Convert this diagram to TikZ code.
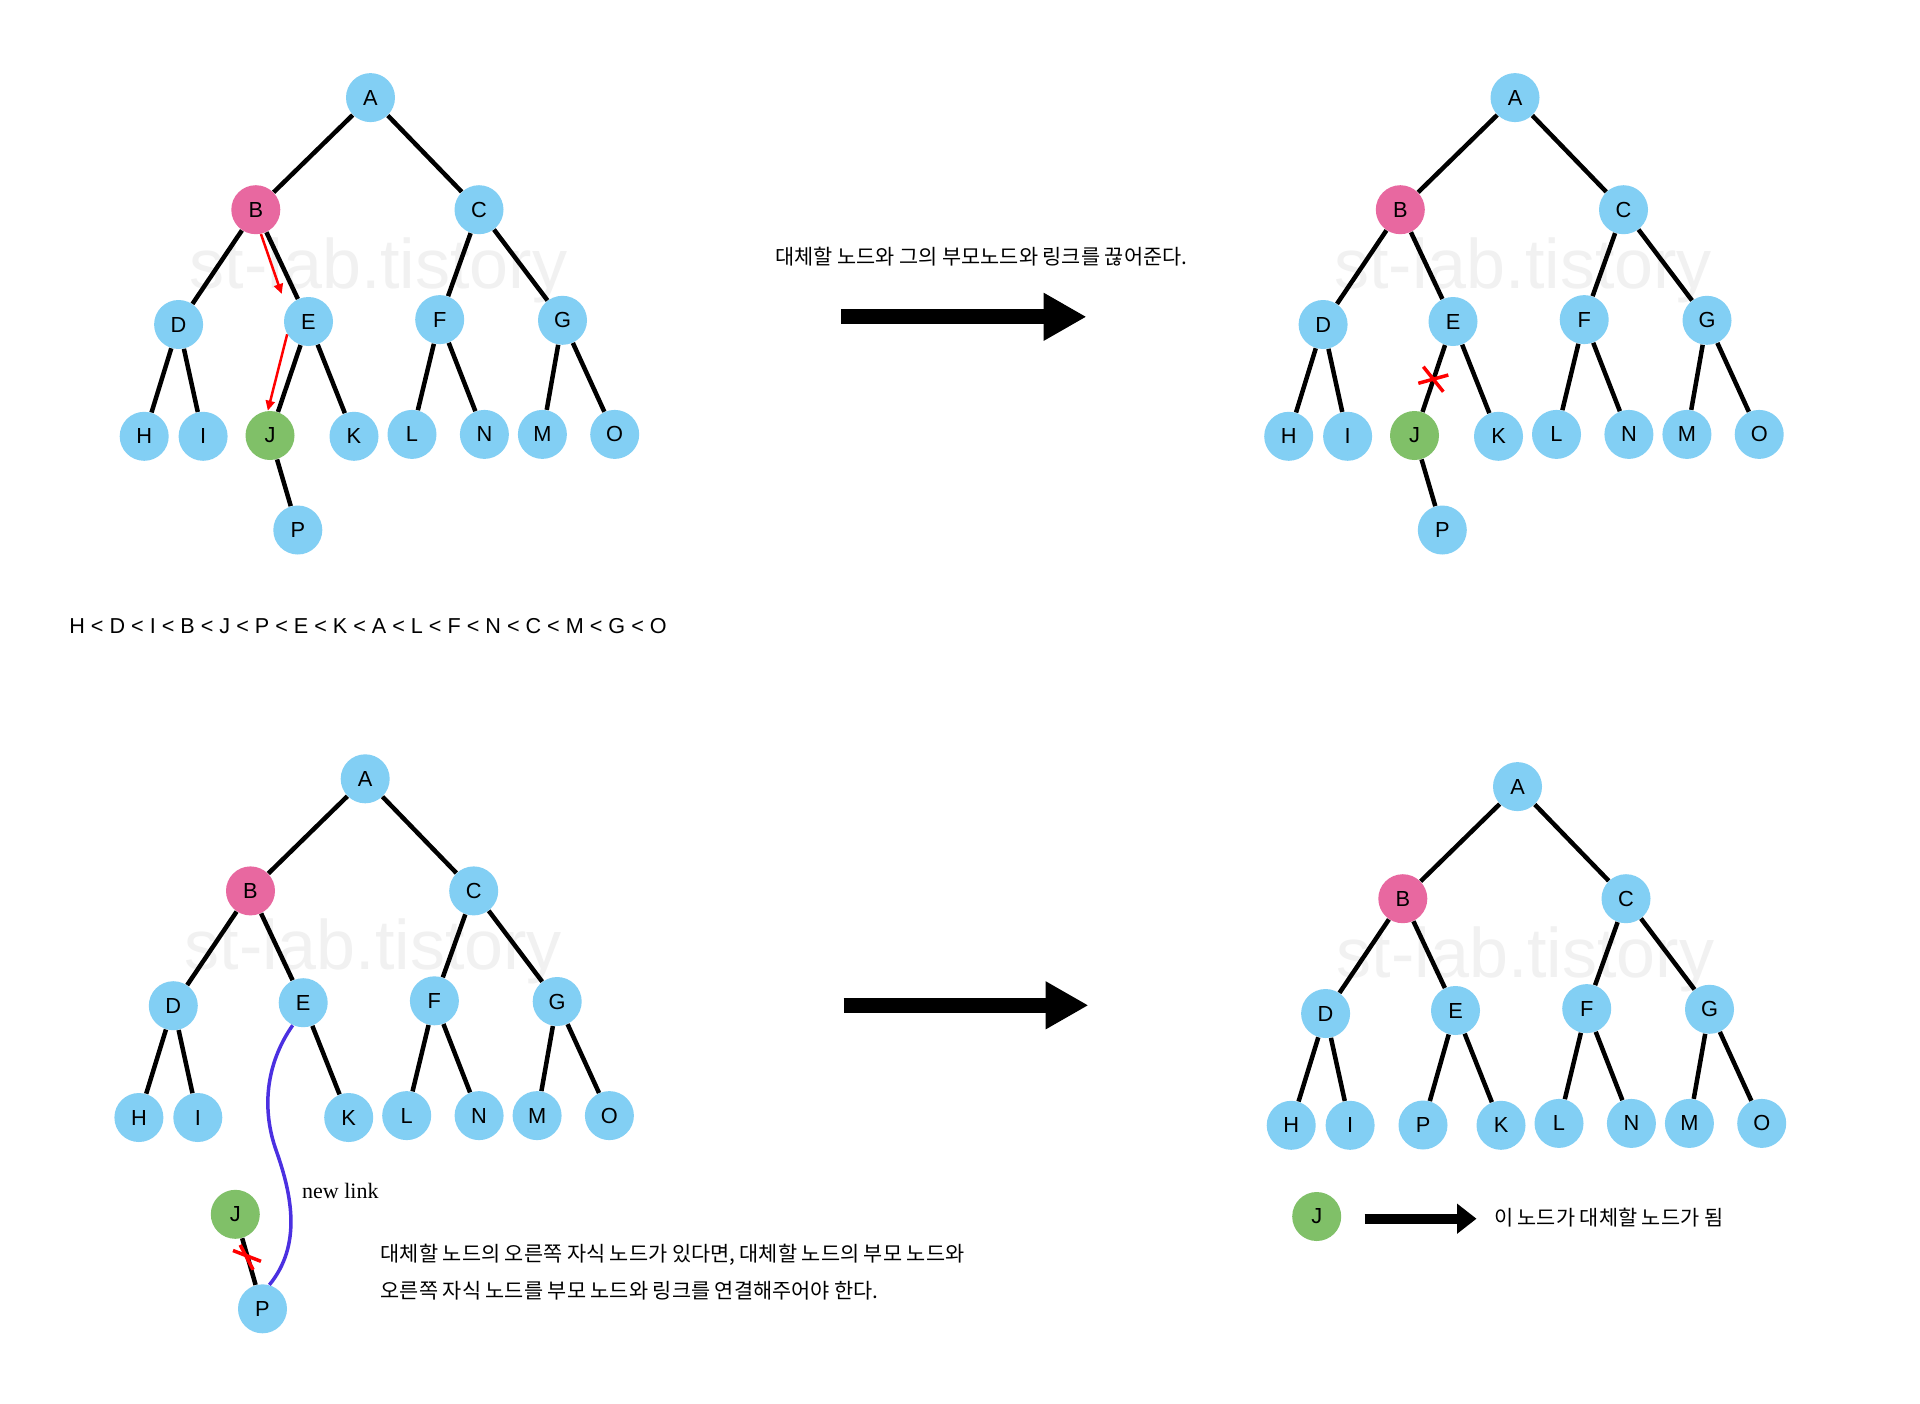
\documentclass[tikz,border=0pt]{standalone}
\usepackage{fontspec}
\setmainfont{Liberation Serif}
\newfontfamily\lsans{Liberation Sans}
\newfontfamily\kfont{Noto Sans CJK KR}
\usetikzlibrary{arrows.meta}
\definecolor{nblue}{RGB}{130,207,244}
\definecolor{npink}{RGB}{232,104,160}
\definecolor{ngreen}{RGB}{128,192,104}
\definecolor{wmgray}{RGB}{241,241,241}
\definecolor{linkblue}{RGB}{75,48,225}
\newcommand\lab{\lsans\fontsize{10.9}{12}\selectfont}
\newcommand\krtxt{\kfont\fontsize{10.4}{12}\selectfont}
\tikzset{
  nd/.style={circle, fill=nblue, minimum size=24.5pt, inner sep=0pt, font=\lab},
  pk/.style={nd, fill=npink},
  gr/.style={nd, fill=ngreen},
  edge/.style={line width=2.25pt, black},
  redarr/.style={red, line width=1.25pt, -{Triangle[length=5pt,width=4.5pt]}},
  xmark/.style={red, line width=1.75pt},
  bigarr/.style={black, line width=7.5pt, -{Triangle[length=21.5pt,width=22.5pt]}},
  smallarr/.style={black, line width=5pt, -{Triangle[length=9.75pt,width=14.5pt]}},
  wm/.style={font=\lsans\fontsize{35}{40}\selectfont, text=wmgray, anchor=base west, inner sep=0pt},
  kr/.style={font=\krtxt, anchor=west, inner sep=0pt},
  newlink/.style={linkblue, line width=1.75pt},
}
\newcommand\basetree[1]{%
  \node[wm] (wm#1) at (189.5,288.6) {st-lab.tistory};
  \node[nd] (A#1) at (370.5,97.6) {A};
  \node[pk] (B#1) at (255.8,209.7) {B};
  \node[nd] (C#1) at (479,209.7) {C};
  \node[nd] (D#1) at (178.6,324.5) {D};
  \node[nd] (E#1) at (308.5,321.5) {E};
  \node[nd] (F#1) at (439.7,319.6) {F};
  \node[nd] (G#1) at (562.5,320.3) {G};
  \node[nd] (H#1) at (144.2,436.3) {H};
  \node[nd] (I#1) at (203.1,436.3) {I};
  \node[nd] (K#1) at (354,436.3) {K};
  \node[nd] (L#1) at (412,434.4) {L};
  \node[nd] (N#1) at (484.4,434.4) {N};
  \node[nd] (M#1) at (542.4,434.4) {M};
  \node[nd] (O#1) at (614.7,434.4) {O};
  \draw[edge] (A#1) -- (B#1);
  \draw[edge] (A#1) -- (C#1);
  \draw[edge] (B#1) -- (D#1);
  \draw[edge] (B#1) -- (E#1);
  \draw[edge] (C#1) -- (F#1);
  \draw[edge] (C#1) -- (G#1);
  \draw[edge] (D#1) -- (H#1);
  \draw[edge] (D#1) -- (I#1);
  \draw[edge] (E#1) -- (K#1);
  \draw[edge] (F#1) -- (L#1);
  \draw[edge] (F#1) -- (N#1);
  \draw[edge] (G#1) -- (M#1);
  \draw[edge] (G#1) -- (O#1);
}
\begin{document}
\begin{tikzpicture}[x=0.5pt,y=-0.5pt]
\useasboundingbox (0,0) rectangle (1920,1403);
\fill[white] (0,0) rectangle (1920,1403);

% ---------- tree 1 (top left)
\begin{scope}
  \basetree{1}
  \node[gr] (J1) at (270,435.5) {J};
  \node[nd] (P1) at (297.8,530) {P};
  \draw[edge] (E1) -- (J1);
  \draw[edge] (J1) -- (P1);
\end{scope}
\coordinate (r1e) at (281.7,294);
\draw[redarr] (B1.-78) -- (r1e);
\draw[redarr] (E1.211) -- (J1.95);

% ---------- tree 2 (top right)
\begin{scope}[shift={(1144.5,0)}]
  \basetree{2}
  \node[gr] (J2) at (270,435.5) {J};
  \node[nd] (P2) at (297.8,530) {P};
  \draw[edge] (E2) -- (J2);
  \draw[edge] (J2) -- (P2);
\end{scope}
\draw[xmark] (1423.3,366.7) -- (1443.3,391.7);
\draw[xmark] (1418.3,383.3) -- (1448.3,375);

% ---------- tree 3 (bottom left)
\begin{scope}[shift={(-5.3,681.2)}]
  \basetree{3}
  \node[gr] (J3) at (240.6,533.1) {J};
  \node[nd] (P3) at (267.8,627.6) {P};
  \draw[edge] (J3) -- (P3);
\end{scope}
\draw[xmark] (240.2,1244.9) -- (253.1,1269.7);
\draw[xmark] (233,1250.5) -- (261,1261.3);
\draw[newlink] (E3.-115) .. controls (265,1065) and (262,1110) .. (276,1150)
  .. controls (292,1195) and (302,1245) .. (P3.74);
\node[anchor=base west, inner sep=0pt, font=\fontsize{11}{13}\selectfont] (nl) at (301.8,1198) {new link};

% ---------- tree 4 (bottom right)
\begin{scope}[shift={(1147,689)}]
  \basetree{4}
  \node[nd] (P4) at (276,436) {P};
  \node[gr] (J4) at (169.7,527.5) {J};
  \draw[edge] (E4) -- (P4);
\end{scope}

% ---------- arrows and texts
\coordinate (ar1s) at (840.8,316.8);
\coordinate (ar1e) at (1086.5,316.8);
\draw[bigarr] (ar1s) -- (ar1e);
\coordinate (ar2s) at (843.6,1005.3);
\coordinate (ar2e) at (1088.5,1005.3);
\draw[bigarr] (ar2s) -- (ar2e);
\coordinate (ar3s) at (1364.5,1218.7);
\coordinate (ar3e) at (1476.5,1218.7);
\draw[smallarr] (ar3s) -- (ar3e);

\node[kr] (t1) at (775,256.7) {대체할 노드와 그의 부모노드와 링크를 끊어준다.};
\node[kr] (t2a) at (380.4,1255) {대체할 노드의 오른쪽 자식 노드가 있다면, 대체할 노드의 부모 노드와};
\node[kr] (t2b) at (380.4,1291) {오른쪽 자식 노드를 부모 노드와 링크를 연결해주어야 한다.};
\node[kr] (t3) at (1493.6,1218) {이 노드가 대체할 노드가 됨};

\node[anchor=base west, inner sep=0pt, font=\lsans\fontsize{10.8}{13}\selectfont] (order) at (69,633.3)
  {H < D < I < B < J < P < E < K < A < L < F < N < C < M < G < O};
\end{tikzpicture}
\end{document}
